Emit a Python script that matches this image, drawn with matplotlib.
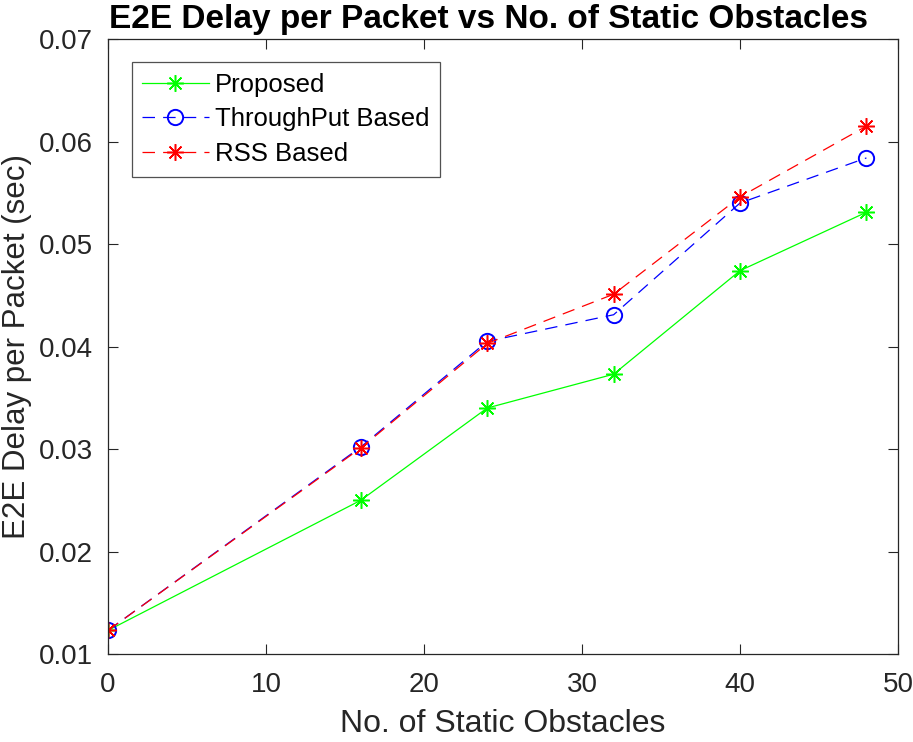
import matplotlib.pyplot as plt

obstacles = [0, 16, 24, 32, 40, 48]
proposed = [0.0123, 0.0250, 0.0340, 0.0373, 0.0474, 0.0531]
throughput = [0.0123, 0.0302, 0.0405, 0.0431, 0.0540, 0.0584]
rss = [0.0123, 0.0301, 0.0403, 0.0451, 0.0546, 0.0615]

plt.rcParams["font.family"] = ["Liberation Sans", "DejaVu Sans"]

fig = plt.figure(figsize=(9.13, 7.42), dpi=100)
ax = fig.add_axes([0.1183, 0.1186, 0.8653, 0.8288])

# MATLAB-style '*' marker: eight spokes
star = (8, 2, 0)
dash = (0, (10, 6.5))

ax.plot(obstacles, proposed, color="#00ff00", lw=0.9, marker=star,
        ms=12, mew=1.1, label="Proposed")
ax.plot(obstacles, throughput, color="#0000ff", lw=0.9, ls=dash,
        marker="o", ms=11, mfc="none", mew=1.4, label="ThroughPut Based")
ax.plot(obstacles, rss, color="#ff0000", lw=0.9, ls=dash,
        marker=star, ms=12, mew=1.1, label="RSS Based")

ax.set_xlim(0, 50)
ax.set_ylim(0.01, 0.07)
ax.set_xticks([0, 10, 20, 30, 40, 50])
ax.set_yticks([0.01, 0.02, 0.03, 0.04, 0.05, 0.06, 0.07])
ax.tick_params(direction="in", top=True, right=True, labelsize=20,
               length=7, width=0.8, colors="0.15", labelcolor="0.15")
ax.tick_params(axis="x", pad=13)
ax.tick_params(axis="y", pad=11)
for s in ax.spines.values():
    s.set_color("0.15")
    s.set_linewidth(0.9)

ax.set_xlabel("No. of Static Obstacles", fontsize=23, color="0.15", labelpad=8)
ax.set_ylabel("E2E Delay per Packet (sec)", fontsize=22.5, color="0.15", labelpad=5)
ax.set_title("E2E Delay per Packet vs No. of Static Obstacles", fontsize=24,
             fontweight="bold", pad=8, x=0.481)

leg = ax.legend(loc="upper left", bbox_to_anchor=(0.03, 0.962), fontsize=18.5,
                frameon=True, fancybox=False, edgecolor="0.15",
                handlelength=2.6, borderpad=0.4, labelspacing=0.42,
                handletextpad=0.25, borderaxespad=0)
leg.get_frame().set_linewidth(0.9)

fig.savefig("out.png", dpi=100)
